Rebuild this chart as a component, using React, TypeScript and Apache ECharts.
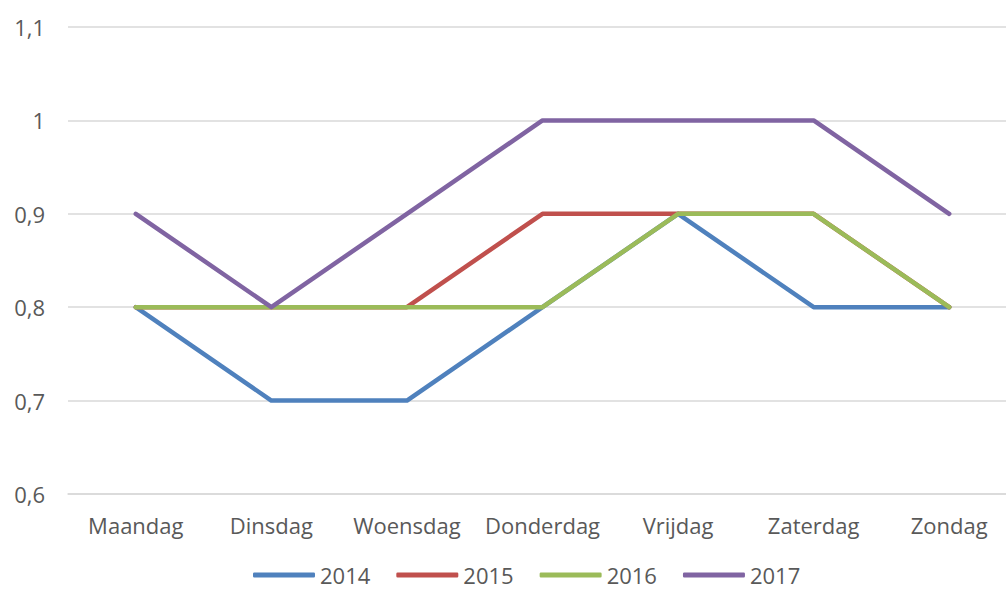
import React, { useEffect, useRef } from "react";
import * as echarts from "echarts";

const categories = ["Maandag", "Dinsdag", "Woensdag", "Donderdag", "Vrijdag", "Zaterdag", "Zondag"];
const s2014 = [0.8, 0.7, 0.7, 0.8, 0.9, 0.8, 0.8];
const s2015 = [0.8, 0.8, 0.8, 0.9, 0.9, 0.9, 0.8];
const s2016 = [0.8, 0.8, 0.8, 0.8, 0.9, 0.9, 0.8];
const s2017 = [0.9, 0.8, 0.9, 1.0, 1.0, 1.0, 0.9];
const seriesNames = ["2014", "2015", "2016", "2017"];
const colors = ["#4F81BD", "#C0504D", "#9BBB59", "#8064A2"];

export default function App() {
  const ref = useRef<HTMLDivElement>(null);
  useEffect(() => {
    if (!ref.current) return;
    const chart = echarts.init(ref.current, null, { renderer: "svg" });
    const font = "'Open Sans', sans-serif";
    const data = [s2014, s2015, s2016, s2017];
    chart.setOption({
      animation: false,
      color: colors,
      grid: { left: 68, right: 0, top: 27, bottom: 101, containLabel: false },
      legend: {
        bottom: 4,
        left: 248,
        itemWidth: 62,
        itemHeight: 5,
        itemGap: 26,
        icon: "roundRect",
        textStyle: { color: "#595959", fontSize: 22, fontFamily: font },
        data: seriesNames,
      },
      xAxis: {
        type: "category",
        data: categories,
        boundaryGap: true,
        axisLine: { show: true, lineStyle: { color: "#D9D9D9", width: 1.5 } },
        axisTick: { show: false },
        axisLabel: { color: "#595959", fontSize: 22, fontFamily: font, margin: 20, interval: 0 },
      },
      yAxis: {
        type: "value",
        min: 0.6,
        max: 1.1,
        interval: 0.1,
        axisLine: { show: false },
        axisTick: { show: false },
        splitLine: { lineStyle: { color: "#D9D9D9", width: 1.5 } },
        axisLabel: {
          color: "#595959",
          fontSize: 22,
          fontFamily: font,
          margin: 23,
          formatter: (v: number) => {
            const r = Math.round(v * 10) / 10;
            return String(r).replace(".", ",");
          },
        },
      },
      series: seriesNames.map((name, i) => ({
        name,
        type: "line",
        data: data[i],
        symbol: "none",
        lineStyle: { width: 4.5, color: colors[i], cap: "round", join: "round" },
        itemStyle: { color: colors[i] },
      })),
    });
    return () => chart.dispose();
  }, []);
  return (
    <div
      style={{ position: "fixed", left: 0, top: 0, width: 1006, height: 595, overflow: "hidden", background: "#fff" }}
    >
      <div ref={ref} style={{ width: 1017, height: 595 }} />
    </div>
  );
}
